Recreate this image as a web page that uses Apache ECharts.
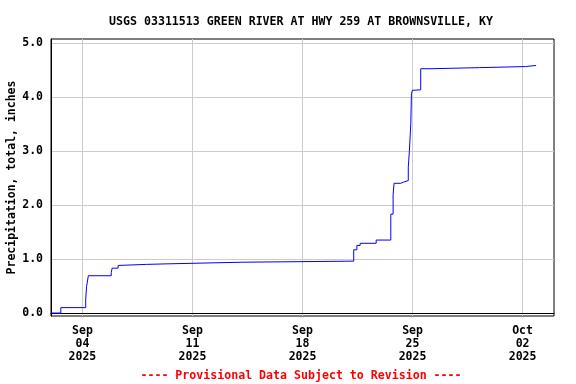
<!DOCTYPE html>
<html>
<head>
<meta charset="utf-8">
<script src="https://cdn.jsdelivr.net/npm/echarts@6/dist/echarts.min.js"></script>
<style>html,body{margin:0;padding:0;background:#fff}#c{width:576px;height:384px}</style>
</head>
<body>
<div id="c"></div>
<script>
const titleText = 'USGS 03311513 GREEN RIVER AT HWY 259 AT BROWNSVILLE, KY';
const yAxisTitle = 'Precipitation, total, inches';
const footerText = '---- Provisional Data Subject to Revision ----';
const xMin = '2025-09-02 00:00';
const xMax = '2025-10-04 00:00';
const xTickDates = ['2025-09-04 00:00', '2025-09-11 00:00', '2025-09-18 00:00', '2025-09-25 00:00', '2025-10-02 00:00'];
const yTicks = [0, 1, 2, 3, 4, 5];
const times = [
  '2025-09-02 00:00', '2025-09-02 15:00', '2025-09-04 05:00', '2025-09-04 06:20', '2025-09-04 09:00',
  '2025-09-05 20:00', '2025-09-05 21:20', '2025-09-06 06:30', '2025-09-06 09:00', '2025-09-08 01:40',
  '2025-09-09 10:40', '2025-09-14 03:50', '2025-09-21 06:10', '2025-09-21 11:00', '2025-09-21 16:00',
  '2025-09-22 16:30', '2025-09-23 14:50', '2025-09-23 18:20', '2025-09-23 19:50', '2025-09-24 06:00',
  '2025-09-24 10:00', '2025-09-24 17:30', '2025-09-24 19:10', '2025-09-24 21:20', '2025-09-24 22:20',
  '2025-09-24 23:45', '2025-09-25 01:00', '2025-09-25 12:30', '2025-09-26 04:10', '2025-09-29 06:30',
  '2025-10-02 04:20', '2025-10-02 20:40'
];
const values = [
  0.00, 0.10, 0.26, 0.49, 0.69,
  0.75, 0.83, 0.88, 0.90, 0.91,
  0.94, 0.96, 1.17, 1.25, 1.29,
  1.35, 1.83, 2.19, 2.40, 2.42,
  2.45, 2.70, 2.99, 3.50, 4.06,
  4.12, 4.13, 4.52, 4.54, 4.56,
  4.58, 4.58
];

function toMs(s) {
  const m = s.match(/(\d+)-(\d+)-(\d+) (\d+):(\d+)/);
  return Date.UTC(+m[1], +m[2] - 1, +m[3], +m[4], +m[5]);
}
const months = ['Jan','Feb','Mar','Apr','May','Jun','Jul','Aug','Sep','Oct','Nov','Dec'];
const font = 'DejaVu Sans Mono';
const chart = echarts.init(document.getElementById('c'), null, {renderer: 'canvas'});
chart.setOption({
  animation: false,
  backgroundColor: '#fff',
  title: [{
    text: titleText, left: 296, top: 11, textAlign: 'center',
    textStyle: {fontFamily: font, fontWeight: 'bold', fontSize: 11.6, color: '#000'}
  }, {
    text: footerText, left: 296, top: 365, textAlign: 'center',
    textStyle: {fontFamily: font, fontWeight: 'bold', fontSize: 11.6, color: '#ff0000'}
  }],
  grid: {left: 51, right: 22, top: 39, bottom: 68, show: true, borderColor: '#000', borderWidth: 1,
    containLabel: false, outerBoundsMode: 'none'},
  xAxis: {
    type: 'value', min: toMs(xMin), max: toMs(xMax),
    axisLine: {show: true, lineStyle: {color: '#000', width: 1}},
    axisTick: {show: false, customValues: xTickDates.map(toMs)},
    splitLine: {show: true, lineStyle: {color: '#cccccc', width: 1}},
    axisLabel: {
      customValues: xTickDates.map(toMs),
      formatter: v => { const d = new Date(v); return months[d.getUTCMonth()] + '\n' + String(d.getUTCDate()).padStart(2, '0') + '\n' + d.getUTCFullYear(); },
      fontFamily: font, fontWeight: 'bold', fontSize: 11.5, color: '#000', lineHeight: 12.7, margin: 9,
      showMinLabel: true, showMaxLabel: true, hideOverlap: false
    }
  },
  yAxis: {
    type: 'value', min: -0.055, max: 5.07,
    name: yAxisTitle, nameLocation: 'middle', nameGap: 33, nameMoveOverlap: false,
    nameTextStyle: {fontFamily: font, fontWeight: 'bold', fontSize: 11.5, color: '#000'},
    axisLine: {show: true, lineStyle: {color: '#000', width: 1}},
    axisTick: {show: false, customValues: yTicks},
    splitLine: {show: true, lineStyle: {color: '#cccccc', width: 1}},
    axisLabel: {
      customValues: yTicks, formatter: v => v.toFixed(1),
      fontFamily: font, fontWeight: 'bold', fontSize: 11.5, color: '#000', margin: 8
    }
  },
  series: [{
    type: 'line', step: 'end', symbol: 'none',
    lineStyle: {color: '#0000ff', width: 1},
    data: times.map((t, i) => [toMs(t), values[i]])
  }]
});
</script>
</body>
</html>
